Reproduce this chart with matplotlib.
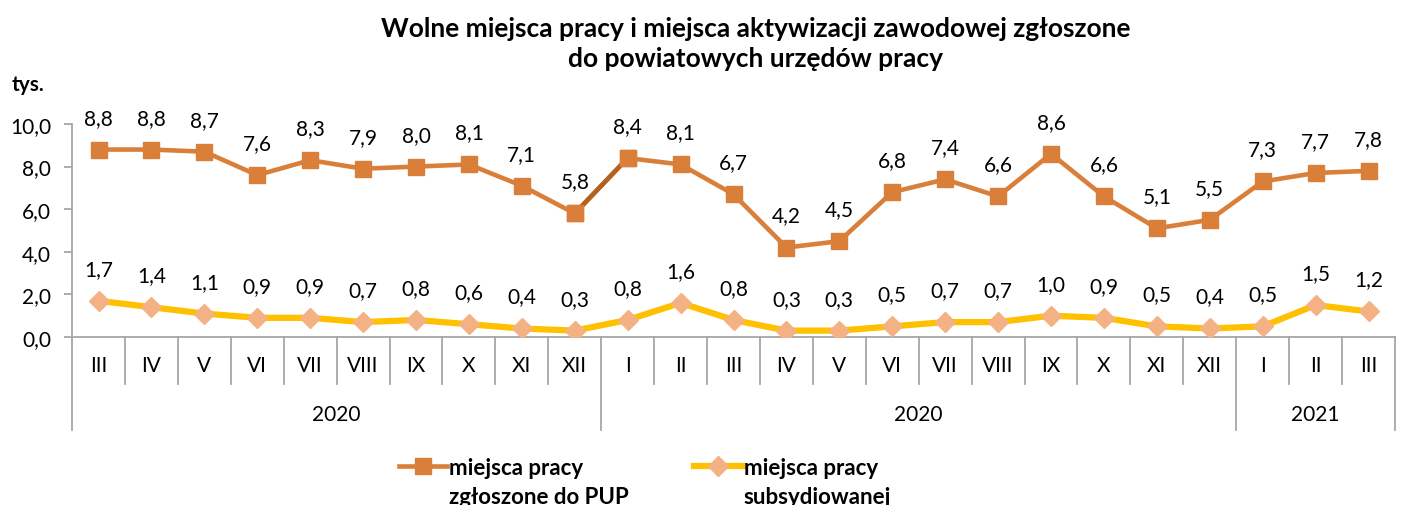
import matplotlib
matplotlib.use("Agg")
import matplotlib.pyplot as plt
import matplotlib.transforms as mtransforms
from matplotlib.lines import Line2D

plt.rcParams['font.family'] = ['Lato', 'DejaVu Sans']

# donnees (tys.)
miesiace = ["III", "IV", "V", "VI", "VII", "VIII", "IX", "X", "XI", "XII",
            "I", "II", "III", "IV", "V", "VI", "VII", "VIII", "IX", "X", "XI", "XII",
            "I", "II", "III"]
lata = ["2020", "2020", "2021"]
lata_liczba_miesiecy = [10, 12, 3]

miejsca_pup = [8.8, 8.8, 8.7, 7.6, 8.3, 7.9, 8.0, 8.1, 7.1, 5.8,
               8.4, 8.1, 6.7, 4.2, 4.5, 6.8, 7.4, 6.6, 8.6, 6.6, 5.1, 5.5,
               7.3, 7.7, 7.8]
miejsca_subs = [1.7, 1.4, 1.1, 0.9, 0.9, 0.7, 0.8, 0.6, 0.4, 0.3,
                0.8, 1.6, 0.8, 0.3, 0.3, 0.5, 0.7, 0.7, 1.0, 0.9, 0.5, 0.4,
                0.5, 1.5, 1.2]

# legenda: pierwsza i druga linia opisu
legenda_1 = ["miejsca pracy", "miejsca pracy"]
legenda_2 = ["zgłoszone do PUP", "subsydiowanej"]

orange = "#DA7F39"
orange_fonce = "#B4601E"
jaune = "#FFC000"
saumon = "#F4B183"
gris = "#A6A6A6"

def fmt(v):
    return f"{v:.1f}".replace(".", ",")

fig = plt.figure(figsize=(14.02, 5.06), dpi=100)
ax = fig.add_axes([0.0514, 0.332, 0.9436, 0.421])

x = list(range(len(miesiace)))

ax.plot(x, miejsca_subs, color=jaune, linewidth=4.5, marker="D", markersize=10,
        markerfacecolor=saumon, markeredgecolor=saumon, zorder=3)
ax.plot(x, miejsca_pup, color=orange, linewidth=3.3, marker="s", markersize=12,
        markerfacecolor=orange, markeredgecolor=orange, zorder=3)
# segment XII -> I plus fonce
ax.plot(x[9:11], miejsca_pup[9:11], color=orange_fonce, linewidth=3.3, zorder=3.5)
ax.plot(x[9:11], miejsca_pup[9:11], linestyle="none", marker="s", markersize=12,
        color=orange, zorder=4)

for xi, v in zip(x, miejsca_pup):
    ax.annotate(fmt(v), (xi, v), xytext=(0, 23), textcoords="offset points",
                ha="center", va="center", fontsize=15)
for xi, v in zip(x, miejsca_subs):
    ax.annotate(fmt(v), (xi, v), xytext=(0, 23), textcoords="offset points",
                ha="center", va="center", fontsize=15)

ax.set_xlim(-0.5, len(miesiace) - 0.5)
ax.set_ylim(0, 10)
ax.set_yticks([0, 2, 4, 6, 8, 10])
ax.set_yticklabels([fmt(v) for v in [0, 2, 4, 6, 8, 10]], fontsize=15)
ax.tick_params(axis="y", length=6, width=1.3, color=gris, pad=9)
ax.set_xticks([])

for s in ["top", "right"]:
    ax.spines[s].set_visible(False)
for s in ["left", "bottom"]:
    ax.spines[s].set_color(gris)
    ax.spines[s].set_linewidth(1.3)

# osie kategorii (miesiace + lata)
trans = mtransforms.blended_transform_factory(ax.transData, ax.transAxes)
for xi, m in zip(x, miesiace):
    ax.text(xi, -0.13, m, transform=trans, ha="center", va="center", fontsize=15)
granice = [-0.5]
for n in lata_liczba_miesiecy:
    granice.append(granice[-1] + n)
for b in range(len(miesiace) + 1):
    xb = b - 0.5
    dol = -0.435 if xb in granice else -0.22
    ax.plot([xb, xb], [0, dol], transform=trans, color=gris, linewidth=1.3,
            clip_on=False)
for i, rok in enumerate(lata):
    ax.text((granice[i] + granice[i + 1]) / 2, -0.36, rok, transform=trans,
            ha="center", va="center", fontsize=15)

fig.text(0.539, 0.914, "Wolne miejsca pracy i miejsca aktywizacji zawodowej zgłoszone\ndo powiatowych urzędów pracy",
         ha="center", va="center", fontsize=19, fontweight="bold", linespacing=1.3)
fig.text(0.008, 0.832, "tys.", ha="left", va="center", fontsize=15, fontweight="bold")

uchwyty = [
    Line2D([], [], color=orange, linewidth=3.3, marker="s", markersize=12),
    Line2D([], [], color=jaune, linewidth=4.5, marker="D", markersize=10,
           markerfacecolor=saumon, markeredgecolor=saumon),
]
leg = fig.legend(uchwyty, legenda_1, loc="center left", bbox_to_anchor=(0.27, 0.075),
                 ncol=2, frameon=False, prop={"size": 16, "weight": "bold"},
                 handlelength=2.2, handletextpad=0.05, columnspacing=5.0)

# druga linia opisu pod pierwsza (uchwyt zostaje przy pierwszej linii)
fig.canvas.draw()
W, H = fig.canvas.get_width_height()
for t, txt in zip(leg.get_texts(), legenda_2):
    bb = t.get_window_extent()
    fig.text(bb.x0 / W, (bb.y0 - 29) / H, txt, ha="left", va="bottom",
             fontsize=16, fontweight="bold")

fig.savefig("out.png", dpi=100)
